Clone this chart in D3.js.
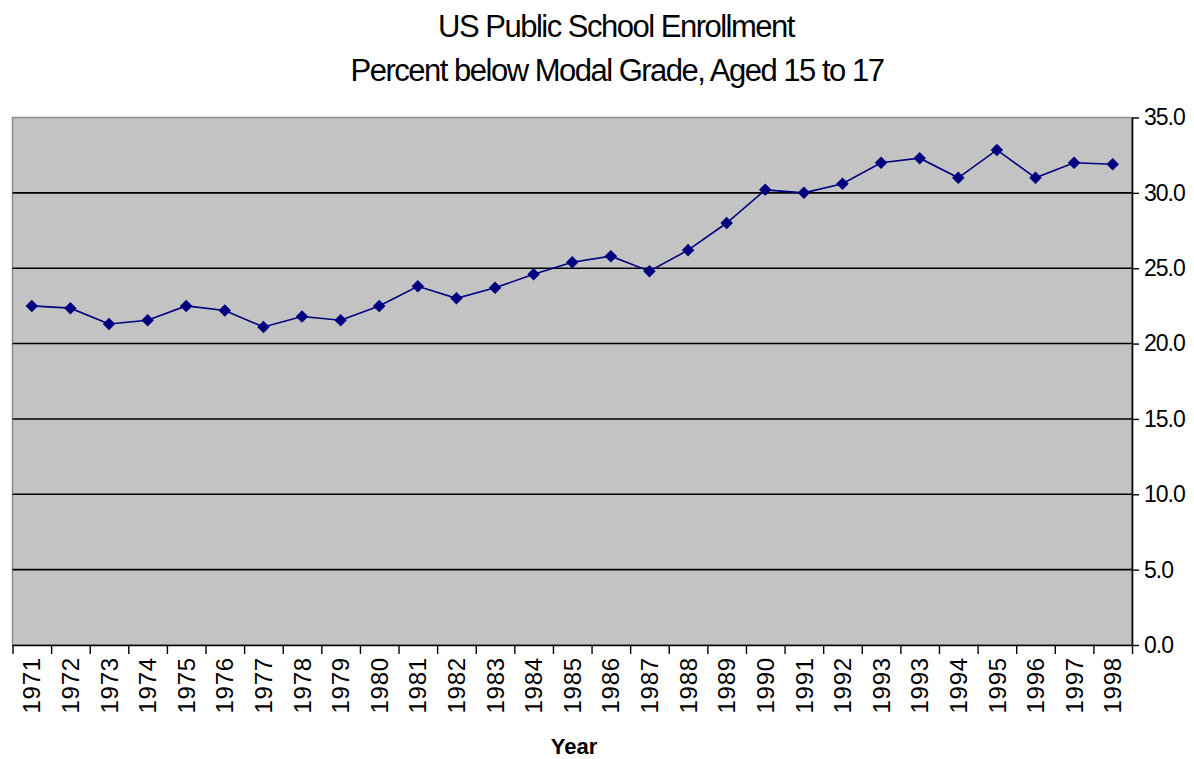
<!DOCTYPE html>
<html><head><meta charset="utf-8">
<script src="https://cdn.jsdelivr.net/npm/d3@7"></script>
<style>
html,body{margin:0;padding:0;background:#fff;}
svg text{font-family:"Liberation Sans",Arial,sans-serif;fill:#000;}
</style></head>
<body><svg id="c" width="1194" height="759"></svg>
<script>
const years = ["1971","1972","1973","1974","1975","1976","1977","1978","1979","1980","1981","1982","1983","1984","1985","1986","1987","1988","1989","1990","1991","1992","1993","1993","1994","1995","1996","1997","1998"];
const percentBelow = [22.5,22.35,21.3,21.55,22.5,22.2,21.1,21.8,21.55,22.5,23.8,23.0,23.7,24.6,25.4,25.8,24.8,26.2,28.0,30.2,30.0,30.6,32.0,32.3,31.0,32.85,31.0,32.0,31.9];
const yTicks = [0,5,10,15,20,25,30,35];
const titleLines = ["US Public School Enrollment","Percent below Modal Grade, Aged 15 to 17"];
const xTitle = "Year";

const svg = d3.select("#c");
const L = 12.5, R = 1132, T = 117.5, B = 645;
const n = years.length;
const idx = d3.range(n);
const x = d3.scaleBand().domain(idx).range([L, R]).padding(0);
const xb = d3.scaleLinear().domain([0, n]).range([L, R]);
const y = d3.scaleLinear().domain([0, 35]).range([B, T]);

// plot background
svg.append("rect").attr("x", L).attr("y", T).attr("width", R - L).attr("height", B - T)
  .attr("fill", "#c3c3c3").attr("stroke", "#8a8a8a").attr("stroke-width", 1.5);

// gridlines
svg.append("g").selectAll("line").data(yTicks.filter(d => d > 0 && d < 35)).join("line")
  .attr("x1", L).attr("x2", R).attr("y1", d => y(d)).attr("y2", d => y(d))
  .attr("stroke", "#000").attr("stroke-width", 1.6);

// x axis ticks at category boundaries
const gxt = svg.append("g").attr("transform", `translate(0,${B})`)
  .call(d3.axisBottom(xb).tickValues(d3.range(n + 1)).tickFormat("").tickSize(9).tickSizeOuter(0));
gxt.select(".domain").attr("stroke", "#000").attr("stroke-width", 1.6);
gxt.selectAll(".tick line").attr("stroke", "#000").attr("stroke-width", 1.4);

// x labels
const gxl = svg.append("g").attr("transform", `translate(0,${B})`)
  .call(d3.axisBottom(x).tickFormat(i => years[i]).tickSize(0));
gxl.select(".domain").remove();
gxl.selectAll("text").attr("transform", "rotate(-90)")
  .attr("text-anchor", "end").attr("x", -12).attr("y", 0).attr("dy", "0.36em")
  .style("font-size", "24px").style("letter-spacing", "0.8px");

// right y axis
const gy = svg.append("g").attr("transform", `translate(${R},0)`)
  .call(d3.axisRight(y).tickValues(yTicks).tickFormat(d3.format(".1f")).tickSize(7).tickSizeOuter(0));
gy.select(".domain").attr("stroke", "#000").attr("stroke-width", 1.6);
gy.selectAll(".tick line").attr("stroke", "#000").attr("stroke-width", 1.4);
gy.selectAll("text").attr("x", 12).style("font-size", "23px").style("letter-spacing", "-1px");

// line
const line = d3.line().x((d, i) => x(i) + x.bandwidth() / 2).y(d => y(d));
svg.append("path").datum(percentBelow).attr("d", line)
  .attr("fill", "none").attr("stroke", "#000080").attr("stroke-width", 1.6);

// diamond markers
const sym = d3.symbol().type(d3.symbolDiamond2).size(100);
svg.append("g").selectAll("path").data(percentBelow).join("path")
  .attr("d", sym)
  .attr("transform", (d, i) => `translate(${x(i) + x.bandwidth() / 2},${y(d)})`)
  .attr("fill", "#000080");

// titles
svg.append("text").attr("x", 616).attr("y", 37).attr("text-anchor", "middle")
  .style("font-size", "31px").style("letter-spacing", "-1.5px").text(titleLines[0]);
svg.append("text").attr("x", 617).attr("y", 81).attr("text-anchor", "middle")
  .style("font-size", "31px").style("letter-spacing", "-1.5px").text(titleLines[1]);

// x axis title
svg.append("text").attr("x", 574).attr("y", 754).attr("text-anchor", "middle")
  .style("font-size", "22px").style("font-weight", "bold").text(xTitle);
</script></body></html>
